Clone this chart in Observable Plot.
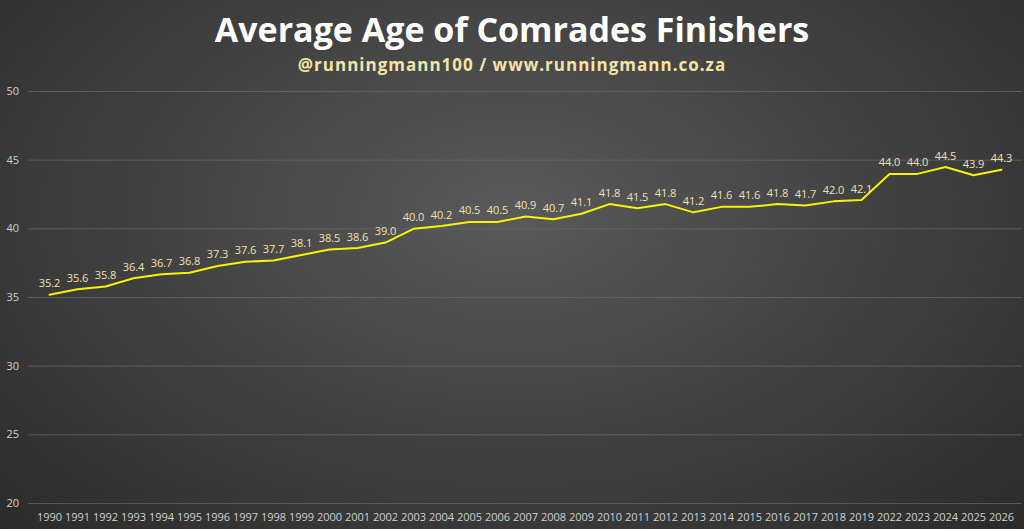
<!DOCTYPE html>
<html><head><meta charset="utf-8">
<script src="https://cdn.jsdelivr.net/npm/d3@7"></script>
<script src="https://cdn.jsdelivr.net/npm/@observablehq/plot@0.6"></script>
<style>
html,body{margin:0;padding:0;}
#wrap{width:1024px;height:529px;position:relative;overflow:hidden;
background:radial-gradient(ellipse at 50% 40%, #5a5a5a 0%, #444 45%, #2b2b2b 100%);font-family:"Open Sans",Roboto,sans-serif;}
#title{position:absolute;top:6px;width:100%;text-align:center;color:#fff;font-weight:bold;font-size:34px;font-family:"Open Sans",sans-serif;}
#sub{position:absolute;top:53px;width:100%;text-align:center;color:#f2e3a8;font-weight:bold;font-size:17px;letter-spacing:1px;}
#chart{position:absolute;top:80px;left:0;}
#chart svg{overflow:visible;}
</style></head><body>
<div id="wrap"><div id="title">Average Age of Comrades Finishers</div>
<div id="sub">@runningmann100 / www.runningmann.co.za</div>
<div id="chart"></div></div>
<script>
const years=["1990","1991","1992","1993","1994","1995","1996","1997","1998","1999","2000","2001","2002","2003","2004","2005","2006","2007","2008","2009","2010","2011","2012","2013","2014","2015","2016","2017","2018","2019","2022","2023","2024","2025","2026"];
const ages=[35.2,35.6,35.8,36.4,36.7,36.8,37.3,37.6,37.7,38.1,38.5,38.6,39.0,40.0,40.2,40.5,40.5,40.9,40.7,41.1,41.8,41.5,41.8,41.2,41.6,41.6,41.8,41.7,42.0,42.1,44.0,44.0,44.5,43.9,44.3];
const yTicks=[20,25,30,35,40,45,50];
const data=years.map((y,i)=>({year:y,age:ages[i]}));
const chart=Plot.plot({
  width:1024,height:449,marginTop:11,marginBottom:26,marginLeft:28,marginRight:2,
  style:{background:"transparent",color:"#d0d0d0",fontSize:"11px",fontFamily:"'Open Sans',sans-serif"},
  x:{type:"point",domain:years,padding:0.5,label:null,tickSize:0,tickPadding:10},
  y:{domain:[20,50],ticks:yTicks,label:null},
  marks:[
    Plot.gridY(yTicks,{stroke:"#6a6a6a",strokeOpacity:0.7}),
    Plot.axisY(yTicks,{tickSize:0,tickPadding:0,textAnchor:"start",dx:-22,fill:"#d0d0d0"}),
    Plot.line(data,{x:"year",y:"age",stroke:"#f5f500",strokeWidth:2}),
    Plot.text(data,{x:"year",y:"age",text:d=>d.age.toFixed(1),dy:-11,fill:"#f0e0b0",fontSize:11})
  ]
});
document.getElementById("chart").append(chart);
</script></body></html>
